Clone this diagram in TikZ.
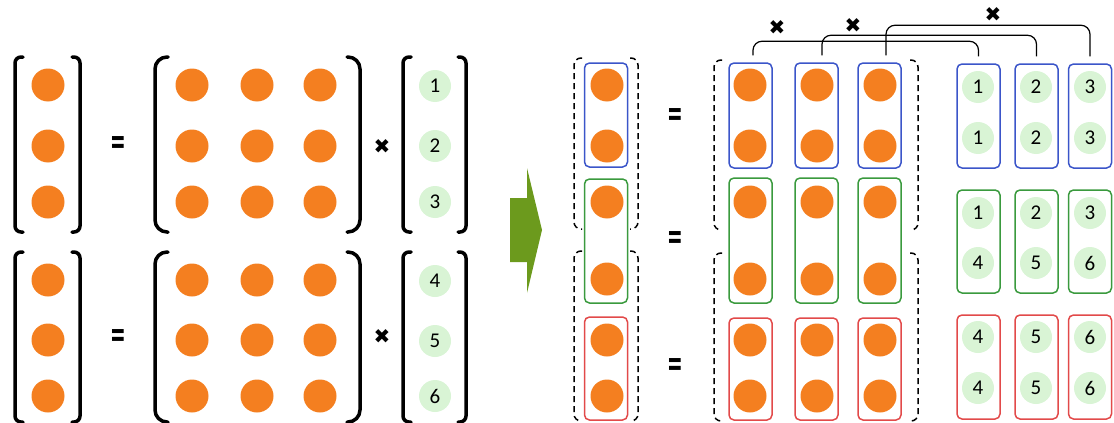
\documentclass[tikz,border=0pt]{standalone}
\usepackage{fontspec}
\setmainfont{Carlito}
\newfontfamily\symfont{DejaVu Sans}
\definecolor{dotor}{HTML}{F47F20}
\definecolor{numgr}{HTML}{D9F4D5}
\definecolor{bxblue}{HTML}{3B55C9}
\definecolor{bxgreen}{HTML}{3A9A3E}
\definecolor{bxred}{HTML}{E24A4A}
\definecolor{arrgreen}{HTML}{6C9A1D}
\newcommand{\eqsign}{\scalebox{0.85}[1.6]{\bfseries =}}
\begin{document}
\begin{tikzpicture}[x=1pt,y=-1pt,
 dot/.style={circle,fill=dotor,minimum size=33pt,inner sep=0pt},
 num/.style={circle,fill=numgr,minimum size=32pt,inner sep=0pt,font=\fontsize{21}{21}\selectfont},
 brk/.style={line width=3.5pt,rounded corners=6pt,line cap=round},
 bigbrk/.style={line width=3.5pt,rounded corners=12pt,line cap=round},
 eqs/.style={font=\symfont\fontsize{22}{22}\selectfont,inner sep=0pt},
 mul/.style={font=\symfont\fontsize{20}{20}\selectfont,inner sep=0pt},
 grp/.style={draw=#1,line width=1.5pt,rounded corners=5pt,minimum width=43pt,inner sep=0pt},
 dsh/.style={dash pattern=on 6pt off 4pt,line width=1.5pt,rounded corners=7pt},
 link/.style={line width=1.2pt,rounded corners=9pt}
]
\useasboundingbox (0,0) rectangle (1114,423);

% ---------- left: two matrix equations ----------
\foreach \r/\y in {1/85,2/146,3/202,4/280,5/340,6/396}{
  \node[dot] (lc\r) at (48,\y) {};
  \foreach \c/\x in {1/192,2/257,3/320}
    \node[dot] (lm\r\c) at (\x,\y) {};
}
\node[num] (lv1) at (435,86) {1};
\node[num] (lv2) at (435,146) {2};
\node[num] (lv3) at (435,202) {3};
\node[num] (lv4) at (435,281) {4};
\node[num] (lv5) at (435,341) {5};
\node[num] (lv6) at (435,396) {6};

\foreach \t/\b in {57/232,252/422}{
  \draw[brk] (23,\t) -- (15,\t) -- (15,\b) -- (23,\b);
  \draw[brk] (72,\t) -- (80,\t) -- (80,\b) -- (72,\b);
  \draw[bigbrk] (168,\t) -- (155,\t) -- (155,\b) -- (168,\b);
  \draw[bigbrk] (347,\t) -- (360,\t) -- (360,\b) -- (347,\b);
  \draw[brk] (411,\t) -- (403,\t) -- (403,\b) -- (411,\b);
  \draw[brk] (458,\t) -- (466,\t) -- (466,\b) -- (458,\b);
}
\node[eqs] (eqa) at (118,145) {\eqsign};
\node[eqs] (eqb) at (118,338) {\eqsign};
\node[mul] (mula) at (382,147) {✖};
\node[mul] (mulb) at (382,337) {✖};

% ---------- arrow ----------
\fill[arrgreen] (510,198) -- (527,198) -- (527,168) -- (542,230) -- (527,293)
  -- (527,262) -- (510,262) -- cycle;

% ---------- middle: stacked column ----------
\foreach \r/\y in {1/85,2/146,3/202,4/279,5/340,6/396}{
  \node[dot] (mc\r) at (607,\y) {};
  \foreach \c/\x in {1/750,2/817,3/880}
    \node[dot] (mm\r\c) at (\x,\y) {};
}
\node[grp=bxblue,minimum height=104pt] (cb) at (606,115) {};
\node[grp=bxgreen,minimum height=124pt] (cg) at (606,241) {};
\node[grp=bxred,minimum height=103pt] (cr) at (606,368.5) {};
\foreach \c/\x in {1/750.5,2/816.5,3/879.5}{
  \node[grp=bxblue,minimum height=105pt] (mb\c) at (\x,115.5) {};
  \node[grp=bxgreen,minimum height=125pt] (mg\c) at (\x,240.5) {};
  \node[grp=bxred,minimum height=102pt] (mr\c) at (\x,369) {};
}
\foreach \t/\b in {58/229,251/421}{
  \draw[dsh] (582,\t) -- (574,\t) -- (574,\b) -- (582,\b);
  \draw[dsh] (630,\t) -- (638,\t) -- (638,\b) -- (630,\b);
}
\foreach \t/\b in {60/230,253/421}{
  \draw[dsh] (722,\t) -- (714,\t) -- (714,\b) -- (722,\b);
  \draw[dsh] (910,\t) -- (918,\t) -- (918,\b) -- (910,\b);
}
\node[eqs] (eqc) at (675,117) {\eqsign};
\node[eqs] (eqd) at (675,240) {\eqsign};
\node[eqs] (eqe) at (675,367) {\eqsign};

% ---------- right: number columns ----------
\foreach \c/\x/\bx in {1/978/978.5,2/1036/1036.5,3/1090/1090}{
  \node[grp=bxblue,minimum height=104pt] (vb\c) at (\bx,116) {};
  \node[grp=bxgreen,minimum height=103pt] (vg\c) at (\bx,241.5) {};
  \node[grp=bxred,minimum height=104pt] (vr\c) at (\bx,367) {};
}
\node[num] (nb11) at (978,87) {1};  \node[num] (nb12) at (978,138) {1};
\node[num] (nb21) at (1036,87) {2}; \node[num] (nb22) at (1036,138) {2};
\node[num] (nb31) at (1090,87) {3}; \node[num] (nb32) at (1090,138) {3};
\node[num] (ng11) at (978,213) {1};  \node[num] (ng12) at (978,263) {4};
\node[num] (ng21) at (1036,213) {2}; \node[num] (ng22) at (1036,263) {5};
\node[num] (ng31) at (1090,213) {3}; \node[num] (ng32) at (1090,263) {6};
\node[num] (nr11) at (978,337) {4};  \node[num] (nr12) at (978,388) {4};
\node[num] (nr21) at (1036,337) {5}; \node[num] (nr22) at (1036,388) {5};
\node[num] (nr31) at (1090,337) {6}; \node[num] (nr32) at (1090,388) {6};

% ---------- connectors with multiplication signs ----------
\draw[link] ([xshift=2.5pt,yshift=7pt]mb1.north) -- ++(0,-14) -| ([yshift=7pt]vb1.north);
\draw[link] ([xshift=5.5pt,yshift=7pt]mb2.north) -- ++(0,-20) -| ([yshift=7pt]vb2.north);
\draw[link] ([xshift=6.5pt,yshift=7pt]mb3.north) -- ++(0,-30) -| ([yshift=7pt]vb3.north);
\node[mul] (mx1) at (777,28) {✖};
\node[mul] (mx2) at (853,26) {✖};
\node[mul] (mx3) at (993,15) {✖};
\end{tikzpicture}
\end{document}
